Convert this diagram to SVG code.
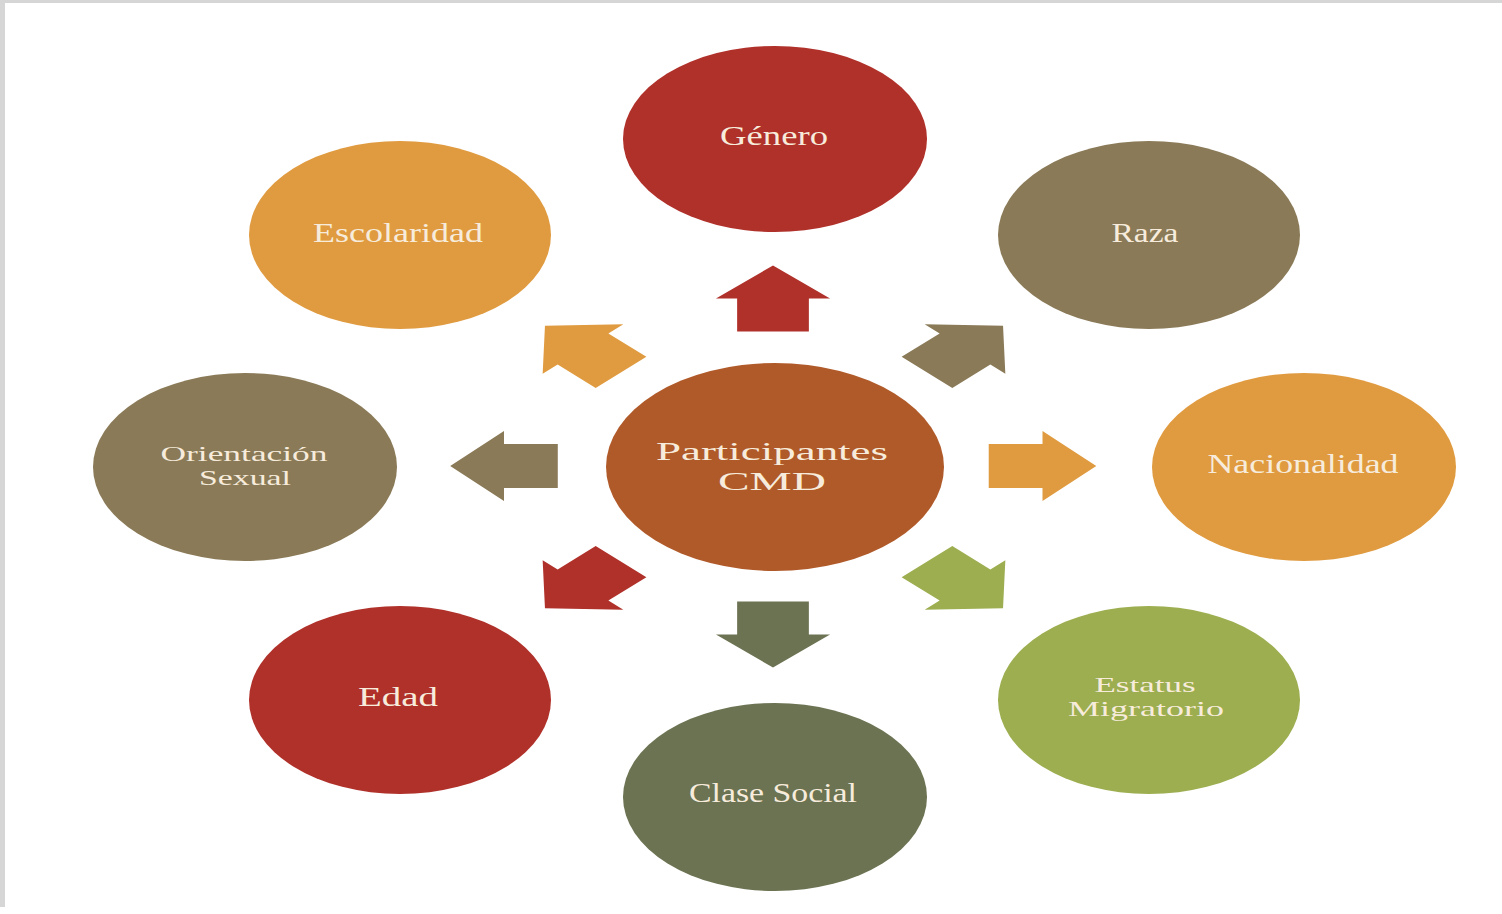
<svg xmlns="http://www.w3.org/2000/svg" width="1502" height="914" viewBox="0 0 1502 914">
<defs>
<style>
.t{font-family:"Liberation Serif","DejaVu Serif",serif;fill:#f7ecdc;font-size:27px;text-anchor:middle}
.two{font-size:21px}
.big{font-size:25px}
</style>
<polygon id="arr" points="0,-33 35,0 22,0 22,33 -22,33 -22,0 -35,0"/>
</defs>
<rect width="1502" height="914" fill="#ffffff"/>
<rect x="0" y="0" width="1502" height="3" fill="#d6d6d6"/>
<rect x="0" y="0" width="5" height="907" fill="#d6d6d6"/>

<g id="connectors">
<use href="#arr" fill="#b0302a" transform="translate(773,298.5) scale(1.63,1) rotate(0)"/>
<use href="#arr" fill="#8a7a57" transform="translate(965,349) scale(1.63,1) rotate(45)"/>
<use href="#arr" fill="#e09b40" transform="translate(1042.5,466) scale(1.63,1) rotate(90)"/>
<use href="#arr" fill="#9cae4f" transform="translate(965,585) scale(1.63,1) rotate(135)"/>
<use href="#arr" fill="#6b7352" transform="translate(773,634.5) scale(1.63,1) rotate(180)"/>
<use href="#arr" fill="#b0302a" transform="translate(583,585) scale(1.63,1) rotate(225)"/>
<use href="#arr" fill="#8a7a57" transform="translate(504,466) scale(1.63,1) rotate(270)"/>
<use href="#arr" fill="#e09b40" transform="translate(583,349) scale(1.63,1) rotate(315)"/>
</g>

<g id="center">
<ellipse cx="775" cy="467" rx="169" ry="104" fill="#b05a2a"/>
<text class="t big" x="772" y="460" textLength="232" lengthAdjust="spacingAndGlyphs">Participantes</text>
<text class="t big" x="772" y="490" textLength="108" lengthAdjust="spacingAndGlyphs">CMD</text>
</g>
<g id="genero">
<ellipse cx="775" cy="139" rx="152" ry="93" fill="#b0302a"/>
<text class="t" x="774" y="145" textLength="108" lengthAdjust="spacingAndGlyphs">Género</text>
</g>
<g id="escolaridad">
<ellipse cx="400" cy="235" rx="151" ry="94" fill="#e09b40"/>
<text class="t" x="398" y="242" textLength="170" lengthAdjust="spacingAndGlyphs">Escolaridad</text>
</g>
<g id="raza">
<ellipse cx="1149" cy="235" rx="151" ry="94" fill="#8a7a57"/>
<text class="t" x="1145" y="242" textLength="67" lengthAdjust="spacingAndGlyphs">Raza</text>
</g>
<g id="orientacion">
<ellipse cx="245" cy="467" rx="152" ry="94" fill="#8a7a57"/>
<text class="t two" x="244" y="461" textLength="167" lengthAdjust="spacingAndGlyphs">Orientación</text>
<text class="t two" x="245" y="485" textLength="92" lengthAdjust="spacingAndGlyphs">Sexual</text>
</g>
<g id="nacionalidad">
<ellipse cx="1304" cy="467" rx="152" ry="94" fill="#e09b40"/>
<text class="t" x="1303" y="473" textLength="191" lengthAdjust="spacingAndGlyphs">Nacionalidad</text>
</g>
<g id="edad">
<ellipse cx="400" cy="700" rx="151" ry="94" fill="#b0302a"/>
<text class="t" x="398" y="706" textLength="80" lengthAdjust="spacingAndGlyphs">Edad</text>
</g>
<g id="estatus">
<ellipse cx="1149" cy="700" rx="151" ry="94" fill="#9cae4f"/>
<text class="t two" x="1145" y="692" textLength="101" lengthAdjust="spacingAndGlyphs">Estatus</text>
<text class="t two" x="1146" y="716" textLength="156" lengthAdjust="spacingAndGlyphs">Migratorio</text>
</g>
<g id="clase">
<ellipse cx="775" cy="797" rx="152" ry="94" fill="#6b7352"/>
<text class="t" x="773" y="802" textLength="168" lengthAdjust="spacingAndGlyphs">Clase Social</text>
</g>
</svg>
